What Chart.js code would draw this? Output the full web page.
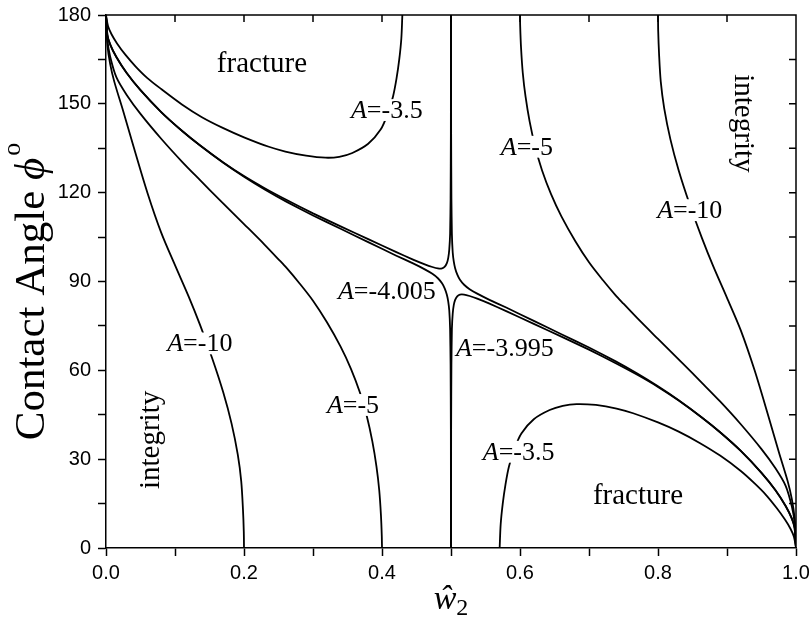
<!DOCTYPE html>
<html><head><meta charset="utf-8">
<script src="https://cdn.jsdelivr.net/npm/chart.js@4/dist/chart.umd.min.js"></script>
<style>html,body{margin:0;padding:0;background:#fff;} #wrap{width:809px;height:618px;}</style>
</head><body><div id="wrap"><canvas id="c" width="809" height="618"></canvas></div>
<script>
// ---- data ----
const a10L_x = [0, 0.002, 0.006, 0.012, 0.025, 0.04, 0.06, 0.08, 0.1, 0.12, 0.136, 0.154, 0.17, 0.182, 0.191, 0.196, 0.1985, 0.1997, 0.2];
const a10L_y = [180, 170, 163.5, 157.5, 147.5, 135.5, 120, 106.5, 95.5, 84.8, 75.5, 64, 52.5, 42, 31.5, 22.5, 13, 5.5, 0];

const a5L_x = [0, 0.002, 0.006, 0.015, 0.03, 0.05, 0.08, 0.11, 0.136, 0.165, 0.2, 0.23, 0.25, 0.262, 0.28, 0.3, 0.32, 0.34, 0.355, 0.368, 0.378, 0.386, 0.392, 0.396, 0.3985, 0.3997, 0.4];
const a5L_y = [180, 171.5, 166, 159, 153, 146.6, 138.2, 130.5, 124.3, 117.5, 109.4, 102.4, 97.5, 94.5, 89.5, 83.5, 76.3, 68, 60.5, 52.5, 44.5, 36, 27.5, 19.5, 11, 4, 0];

const a4005UL_x = [0, 0.002, 0.006, 0.015, 0.03, 0.05, 0.08, 0.11, 0.136, 0.17, 0.2, 0.23, 0.262, 0.3, 0.34, 0.38, 0.42, 0.445, 0.462, 0.473, 0.481, 0.487, 0.491, 0.494, 0.496, 0.4975, 0.4987, 0.4994, 0.4998, 0.49995];
const a4005UL_y = [180, 173.3, 170.1, 165.8, 160.4, 154.6, 147.2, 140.9, 136.0, 130.2, 125.6, 121.5, 117.5, 113.0, 108.6, 104.3, 100.0, 97.4, 95.8, 94.9, 94.4, 94.4, 95.0, 96.2, 98.0, 100.8, 106, 118, 140, 180];

const a3995LL_x = [0, 0.002, 0.006, 0.015, 0.03, 0.05, 0.08, 0.11, 0.136, 0.17, 0.2, 0.23, 0.262, 0.3, 0.34, 0.38, 0.42, 0.445, 0.462, 0.473, 0.481, 0.487, 0.491, 0.494, 0.496, 0.4975, 0.4987, 0.4994, 0.4998, 0.49995];
const a3995LL_y = [180, 173.3, 170.1, 165.8, 160.4, 154.6, 147.2, 140.9, 136.0, 130.1, 125.4, 121.1, 116.9, 112.3, 107.8, 103.3, 98.8, 96.1, 94.1, 92.6, 91.1, 89.4, 87.6, 85.5, 83.2, 80.2, 74, 62, 40, 0];

const a3995UR_x = [1, 0.998, 0.994, 0.985, 0.97, 0.95, 0.92, 0.89, 0.864, 0.83, 0.8, 0.77, 0.738, 0.7, 0.66, 0.62, 0.58, 0.555, 0.538, 0.527, 0.519, 0.513, 0.509, 0.506, 0.504, 0.5025, 0.5013, 0.5006, 0.5002, 0.50005];
const a3995UR_y = [0, 6.7, 9.9, 14.2, 19.6, 25.4, 32.8, 39.1, 44.0, 49.9, 54.6, 58.9, 63.1, 67.7, 72.2, 76.7, 81.2, 83.9, 85.9, 87.4, 88.9, 90.6, 92.4, 94.5, 96.8, 99.8, 106, 118, 140, 180];

const a4005LR_x = [1, 0.998, 0.994, 0.985, 0.97, 0.95, 0.92, 0.89, 0.864, 0.83, 0.8, 0.77, 0.738, 0.7, 0.66, 0.62, 0.58, 0.555, 0.538, 0.527, 0.519, 0.513, 0.509, 0.506, 0.504, 0.5025, 0.5013, 0.5006, 0.5002, 0.50005];
const a4005LR_y = [0, 6.7, 9.9, 14.2, 19.6, 25.4, 32.8, 39.1, 44.0, 49.8, 54.4, 58.5, 62.5, 67.0, 71.4, 75.7, 80.0, 82.6, 84.2, 85.1, 85.6, 85.6, 85.0, 83.8, 82.0, 79.2, 74, 62, 40, 0];

const a35U_x = [0, 0.003, 0.008, 0.016, 0.028, 0.043, 0.06, 0.08, 0.11, 0.139, 0.17, 0.2, 0.236, 0.26, 0.29, 0.318, 0.338, 0.357, 0.38, 0.398, 0.408, 0.416, 0.421, 0.425, 0.428, 0.4295];
const a35U_y = [180, 176.2, 173.5, 170.4, 166.6, 162.6, 158.7, 155, 149.8, 145.5, 141.8, 138.7, 135.5, 133.9, 132.5, 131.8, 132.1, 133.4, 136.5, 141.3, 146.5, 152.5, 158.5, 165, 172, 180];

const a35D_x = [0.5705, 0.572, 0.575, 0.579, 0.584, 0.592, 0.602, 0.62, 0.643, 0.662, 0.682, 0.71, 0.74, 0.764, 0.8, 0.83, 0.861, 0.89, 0.92, 0.94, 0.957, 0.972, 0.984, 0.992, 0.997, 1];
const a35D_y = [0, 8, 15, 21.5, 27.5, 33.5, 38.7, 43.5, 46.6, 48, 48.6, 48.3, 47.1, 45.5, 42.4, 39.3, 35.4, 31.2, 26, 21.8, 17.8, 13.5, 9.6, 6.5, 3.8, 0];

const a5R_x = [1, 0.998, 0.994, 0.985, 0.97, 0.95, 0.92, 0.89, 0.864, 0.835, 0.8, 0.77, 0.75, 0.738, 0.72, 0.7, 0.68, 0.66, 0.645, 0.632, 0.622, 0.614, 0.608, 0.604, 0.6015, 0.6003, 0.6];
const a5R_y = [0, 8.5, 14, 21, 27, 33.4, 41.8, 49.5, 55.7, 62.5, 70.6, 77.6, 82.5, 85.5, 90.5, 96.5, 103.7, 112, 119.5, 127.5, 135.5, 144, 152.5, 160.5, 169, 176, 180];

const a10R_x = [1, 0.998, 0.994, 0.988, 0.975, 0.96, 0.94, 0.92, 0.9, 0.88, 0.864, 0.846, 0.83, 0.818, 0.809, 0.804, 0.8015, 0.8003, 0.8];
const a10R_y = [0, 10, 16.5, 22.5, 32.5, 44.5, 60, 73.5, 84.5, 95.2, 104.5, 116, 127.5, 138, 148.5, 157.5, 167, 174.5, 180];

const xTickValues = [0, 0.1, 0.2, 0.3, 0.4, 0.5, 0.6, 0.7, 0.8, 0.9, 1.0];
const yTickValues = [0, 15, 30, 45, 60, 75, 90, 105, 120, 135, 150, 165, 180];

const labelTexts = ['fracture', 'A=-3.5', 'A=-5', 'A=-10', 'integrity', 'integrity', 'A=-10', 'A=-5', 'A=-4.005', 'A=-3.995', 'A=-3.5', 'fracture'];
const labelX = [0.226, 0.407, 0.61, 0.846, 0.924, 0.064, 0.136, 0.358, 0.407, 0.578, 0.598, 0.771];
const labelY = [163.7, 147.9, 135.5, 114.1, 143.4, 36.5, 69.1, 48.3, 86.6, 67.4, 32.5, 17.9];

// ---- styles ----
const labelRot = [0, 0, 0, 0, Math.PI / 2, -Math.PI / 2, 0, 0, 0, 0, 0, 0];
const labelBg = [false, true, true, true, false, false, true, true, false, false, true, false];
const SERIF = '"Liberation Serif", "Times New Roman", serif';
const SANS = '"Liberation Sans", Arial, sans-serif';

const curves = [
  [a10L_x, a10L_y, 0.3], [a5L_x, a5L_y, 0.3], [a4005UL_x, a4005UL_y, 0.15], [a3995LL_x, a3995LL_y, 0.15],
  [a3995UR_x, a3995UR_y, 0.15], [a4005LR_x, a4005LR_y, 0.15], [a35U_x, a35U_y, 0.3], [a35D_x, a35D_y, 0.3],
  [a5R_x, a5R_y, 0.3], [a10R_x, a10R_y, 0.3]
];

const datasets = curves.map(([xs, ys, t]) => ({
  data: xs.map((v, i) => ({ x: v, y: ys[i] })),
  showLine: true, borderColor: '#000', borderWidth: 1.8, pointRadius: 0,
  tension: t, fill: false
}));

function segmentsFor(t, size) {
  if (t.startsWith('A=')) {
    return [{ t: 'A', f: 'italic ' + size + 'px ' + SERIF }, { t: t.slice(1), f: size + 'px ' + SERIF }];
  }
  return [{ t: t, f: size + 'px ' + SERIF }];
}

const annotPlugin = {
  id: 'annot',
  afterDatasetsDraw(chart) {
    const ctx = chart.ctx, xs = chart.scales.x, ys = chart.scales.y;
    labelTexts.forEach((t, i) => {
      const isWord = !t.startsWith('A=');
      const size = isWord ? 29 : 26;
      const segs = segmentsFor(t, size);
      let w = 0;
      segs.forEach(s => { ctx.font = s.f; s.w = ctx.measureText(s.t).width; w += s.w; });
      const px = xs.getPixelForValue(labelX[i]), py = ys.getPixelForValue(labelY[i]);
      ctx.save();
      ctx.translate(px, py);
      ctx.rotate(labelRot[i]);
      if (labelBg[i]) {
        ctx.fillStyle = '#fff';
        ctx.fillRect(-w / 2 - 2, -size * 0.42, w + 4, size * 0.84);
      }
      ctx.fillStyle = '#000';
      ctx.textBaseline = 'middle';
      ctx.textAlign = 'left';
      let cx = -w / 2;
      segs.forEach(s => { ctx.font = s.f; ctx.fillText(s.t, cx, 1); cx += s.w; });
      ctx.restore();
    });
  },
  afterDraw(chart) {
    const ctx = chart.ctx, a = chart.chartArea, xs = chart.scales.x, ys = chart.scales.y;
    ctx.save();
    ctx.strokeStyle = '#000';
    ctx.lineWidth = 1.5;
    ctx.beginPath();
    ctx.moveTo(a.left, a.top); ctx.lineTo(a.right, a.top); ctx.lineTo(a.right, a.bottom);
    ctx.stroke();
    // inward ticks on top and right
    ctx.beginPath();
    xTickValues.forEach(v => { if (v > 0 && v < 1) { const p = xs.getPixelForValue(v); ctx.moveTo(p, a.top); ctx.lineTo(p, a.top + 7); } });
    yTickValues.forEach(v => { if (v > 0 && v < 180) { const p = ys.getPixelForValue(v); ctx.moveTo(a.right, p); ctx.lineTo(a.right - 7, p); } });
    ctx.stroke();
    // y title
    ctx.fillStyle = '#000';
    const fs = 43;
    ctx.translate(44, (a.top + a.bottom) / 2 + 10);
    ctx.rotate(-Math.PI / 2);
    const t1 = 'Contact Angle ', t2 = '\u03D5', t3 = 'o';
    ctx.font = fs + 'px ' + SERIF; const w1 = ctx.measureText(t1).width;
    ctx.font = 'italic ' + fs + 'px ' + SERIF; const w2 = ctx.measureText(t2).width;
    ctx.font = Math.round(fs * 0.6) + 'px ' + SERIF; const w3 = ctx.measureText(t3).width;
    let sx = -(w1 + w2 + w3 + 2) / 2;
    ctx.textBaseline = 'alphabetic';
    ctx.font = fs + 'px ' + SERIF; ctx.fillText(t1, sx, 0); sx += w1;
    ctx.font = 'italic ' + fs + 'px ' + SERIF; ctx.fillText(t2, sx, 0); sx += w2 + 2;
    ctx.font = Math.round(fs * 0.6) + 'px ' + SERIF; ctx.fillText(t3, sx, -fs * 0.55);
    ctx.restore();
    // x title
    ctx.save();
    ctx.fillStyle = '#000';
    const cxm = (a.left + a.right) / 2;
    ctx.font = 'italic 34px ' + SERIF; const ww = ctx.measureText('\u0175').width;
    ctx.font = '24px ' + SERIF; const w22 = ctx.measureText('2').width;
    let bx = cxm - (ww + w22) / 2;
    ctx.font = 'italic 34px ' + SERIF; ctx.fillText('\u0175', bx, 609);
    ctx.font = '24px ' + SERIF; ctx.fillText('2', bx + ww, 615);
    ctx.restore();
  }
};

new Chart(document.getElementById('c'), {
  type: 'scatter',
  data: { datasets },
  plugins: [annotPlugin],
  options: {
    responsive: false, animation: false,
    layout: { padding: { top: 15, right: 13, left: 0, bottom: 0 } },
    plugins: { legend: { display: false }, tooltip: { enabled: false } },
    scales: {
      x: {
        type: 'linear', min: 0, max: 1, position: 'bottom',
        afterBuildTicks: s => { s.ticks = xTickValues.map(v => ({ value: v })); },
        ticks: {
          autoSkip: false, maxRotation: 0, padding: 5, color: '#000',
          font: { family: SANS, size: 20 },
          callback: v => { const k = Math.round(v * 10); return k % 2 === 0 ? (k / 10).toFixed(1) : ''; }
        },
        grid: { drawOnChartArea: false, tickLength: 8, color: '#000', tickWidth: 1.5 },
        border: { color: '#000', width: 1.5 },
        afterFit: s => { s.height = 70; s.paddingLeft = 0; s.paddingRight = 0; }
      },
      y: {
        type: 'linear', min: 0, max: 180,
        afterBuildTicks: s => { s.ticks = yTickValues.map(v => ({ value: v })); },
        ticks: {
          autoSkip: false, padding: 7, color: '#000',
          font: { family: SANS, size: 20 },
          callback: v => (Math.round(v) % 30 === 0 ? String(Math.round(v)) : '')
        },
        grid: { drawOnChartArea: false, tickLength: 8, color: '#000', tickWidth: 1.5 },
        border: { color: '#000', width: 1.5 },
        afterFit: s => { s.width = 106; s.paddingTop = 0; s.paddingBottom = 0; }
      }
    }
  }
});
</script></body></html>
